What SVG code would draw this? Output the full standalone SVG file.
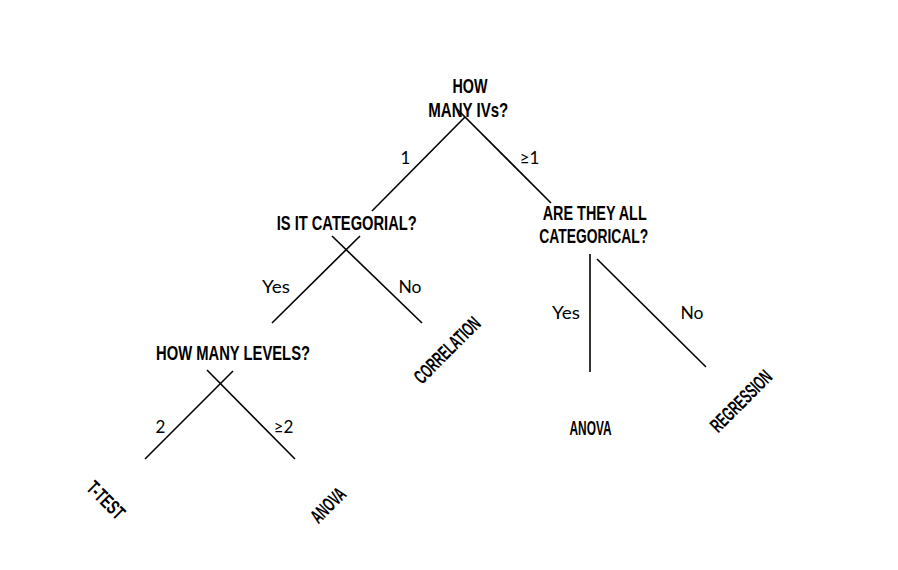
<svg xmlns="http://www.w3.org/2000/svg" width="898" height="570" viewBox="0 0 898 570">
<style>
.q{font-family:"Liberation Sans",Arial,sans-serif;font-weight:bold;font-size:21px;fill:#000;text-anchor:middle}
.leaf{font-family:"Liberation Sans",Arial,sans-serif;font-weight:bold;font-size:20px;fill:#000;text-anchor:middle}
.lbl{font-family:Lato,"Noto Sans",sans-serif;font-size:17px;fill:#000;text-anchor:middle}
.c line{stroke:#000;stroke-width:1.6;fill:none}
</style>
<rect width="898" height="570" fill="#fff"/>
<g class="c" id="connectors">
<line x1="465" y1="117" x2="372" y2="211"/>
<line x1="456" y1="108" x2="551" y2="203"/>
<line x1="360" y1="236" x2="272" y2="323"/>
<line x1="332" y1="236" x2="422" y2="323"/>
<line x1="233" y1="371" x2="145" y2="459"/>
<line x1="207" y1="370" x2="295" y2="459"/>
<line x1="590" y1="254" x2="590" y2="372"/>
<line x1="597" y1="259" x2="706" y2="367"/>
</g>
<g id="edge-labels">
<text class="lbl" x="405.5" y="164">1</text>
<text class="lbl" x="529.5" y="164">≥1</text>
<text class="lbl" x="276" y="292.5" textLength="28" lengthAdjust="spacingAndGlyphs">Yes</text>
<text class="lbl" x="410" y="292.5" textLength="23" lengthAdjust="spacingAndGlyphs">No</text>
<text class="lbl" x="566" y="319" textLength="28" lengthAdjust="spacingAndGlyphs">Yes</text>
<text class="lbl" x="692" y="319" textLength="23" lengthAdjust="spacingAndGlyphs">No</text>
<text class="lbl" x="160.5" y="432.5">2</text>
<text class="lbl" x="283.5" y="432.5">≥2</text>
</g>
<g id="node-how-many-ivs">
<text class="q" x="470" y="92.5" textLength="35" lengthAdjust="spacingAndGlyphs">HOW</text>
<text class="q" x="468.3" y="116.5" textLength="80" lengthAdjust="spacingAndGlyphs">MANY IVs?</text>
</g>
<g id="node-is-it-categorial">
<text class="q" x="346.7" y="230" textLength="140" lengthAdjust="spacingAndGlyphs">IS IT CATEGORIAL?</text>
</g>
<g id="node-are-they-all-categorical">
<text class="q" x="594.7" y="220" textLength="104" lengthAdjust="spacingAndGlyphs">ARE THEY ALL</text>
<text class="q" x="593.8" y="243.3" textLength="109" lengthAdjust="spacingAndGlyphs">CATEGORICAL?</text>
</g>
<g id="node-how-many-levels">
<text class="q" x="233" y="360" textLength="154" lengthAdjust="spacingAndGlyphs">HOW MANY LEVELS?</text>
</g>
<g id="node-correlation" transform="translate(447,350) rotate(-45)">
<text class="leaf" x="0" y="7" textLength="85" lengthAdjust="spacingAndGlyphs">CORRELATION</text>
</g>
<g id="node-anova-right">
<text class="leaf" x="590.5" y="435" textLength="42" lengthAdjust="spacingAndGlyphs">ANOVA</text>
</g>
<g id="node-regression" transform="translate(741,401) rotate(-45)">
<text class="leaf" x="0" y="7" textLength="78" lengthAdjust="spacingAndGlyphs">REGRESSION</text>
</g>
<g id="node-t-test" transform="translate(106,500) rotate(45)">
<text class="leaf" x="0" y="7" textLength="45" lengthAdjust="spacingAndGlyphs">T-TEST</text>
</g>
<g id="node-anova-left" transform="translate(328,505) rotate(-45)">
<text class="leaf" x="0" y="7" textLength="41" lengthAdjust="spacingAndGlyphs">ANOVA</text>
</g>
</svg>
